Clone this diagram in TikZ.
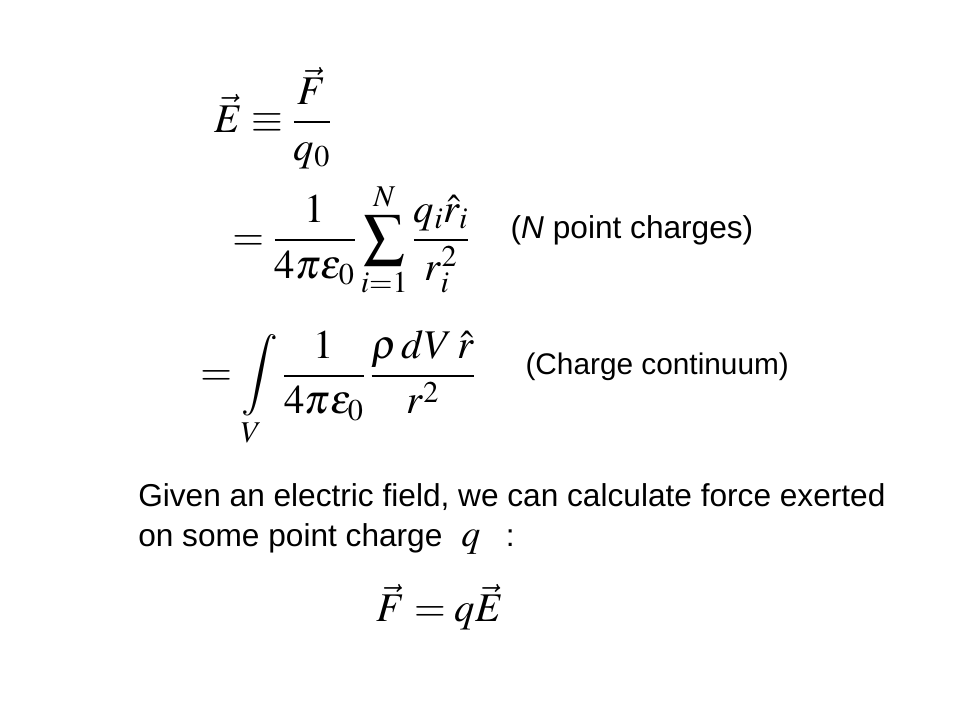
\documentclass[tikz,border=0pt]{standalone}
\usepackage{mathptmx}
\usepackage[no-math]{fontspec}
\newfontfamily\slidefont{Liberation Sans}
\usetikzlibrary{positioning}

\tikzset{
    eqn/.style={inner sep=0pt, font=\fontsize{29}{34}\selectfont},
    note/.style={inner sep=0pt, font=\slidefont\fontsize{22.5}{27}\selectfont}
}

\begin{document}
\begin{tikzpicture}
    \useasboundingbox[fill=white] (0,-18) rectangle (24,0);

    \node[eqn] (definition) at (6.83,-2.95)
        {$\displaystyle \vec{E} \equiv \frac{\vec{F}}{q_0}$};

    \node[eqn] (point sum) at (8.78,-6.0)
        {$\displaystyle = \frac{1}{4\pi\varepsilon_0}\sum_{i=1}^{N}\frac{q_i\hat{r}_i}{r_i^{2}}$};

    \node[note] (point note) at (15.8,-5.75) {(\textit{N} point charges)};

    \node[eqn] (continuum) at (8.45,-9.72)
        {$\displaystyle = \int\limits_{V}\frac{1}{4\pi\varepsilon_0}\,\frac{\rho\, dV\,\hat{r}}{r^{2}}$};

    \node[note, font=\slidefont\fontsize{21.2}{26}\selectfont] (continuum note) at (16.43,-9.18) {(Charge continuum)};

    \node[note, anchor=base west] (given) at (3.45,-12.65)
        {Given an electric field, we can calculate force exerted};

    \node[note, anchor=base west] (charge line) at ([yshift=-1cm]given.base west)
        {on some point charge\hspace{0.6em}{\fontsize{27}{30}\selectfont$q$}\hspace{0.8em}:};

    \node[eqn] (force) at (11.0,-15.18) {$\vec{F} = q\vec{E}$};
\end{tikzpicture}
\end{document}
